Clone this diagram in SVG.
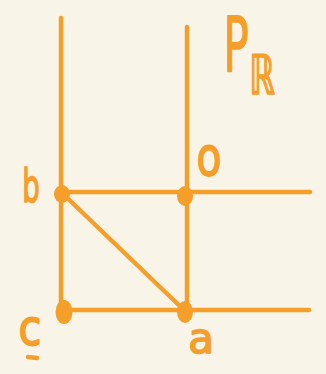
<svg xmlns="http://www.w3.org/2000/svg" width="326" height="374" viewBox="0 0 326 374">
<style>
.ln{stroke:#F59E2A;stroke-width:4.5;stroke-linecap:round;fill:none}
.dot{fill:#F59E2A}
.lbl{fill:#F59E2A;stroke:#F59E2A;stroke-width:1.6;stroke-linejoin:round;font-family:"DejaVu Sans",sans-serif;text-anchor:middle}
</style>
<rect width="326" height="374" fill="#F8F4E7"/>
<g id="connectors">
<line class="ln" x1="61" y1="18" x2="61" y2="312"/>
<line class="ln" x1="187" y1="27" x2="187" y2="311"/>
<line class="ln" x1="61" y1="192" x2="310" y2="192"/>
<line class="ln" x1="64" y1="310" x2="309" y2="310"/>
<line class="ln" x1="61" y1="192" x2="185" y2="311"/>
</g>
<g id="node-b">
<ellipse class="dot" cx="62" cy="194" rx="8" ry="9"/>
<text class="lbl" transform="translate(31,202) scale(0.6,1)" font-size="46">b</text>
</g>
<g id="node-o">
<ellipse class="dot" cx="185" cy="196" rx="8" ry="10"/>
<text class="lbl" transform="translate(209,175) scale(0.85,1.1)" font-size="48">o</text>
</g>
<g id="node-c">
<ellipse class="dot" cx="64" cy="312" rx="8.5" ry="12"/>
<text class="lbl" transform="translate(30,345) scale(0.95,1.15)" font-size="44">c</text>
<line class="ln" x1="28" y1="357" x2="37" y2="358" stroke-width="3"/>
</g>
<g id="node-a">
<ellipse class="dot" cx="185" cy="312" rx="8" ry="11"/>
<text class="lbl" transform="translate(201,353)" font-size="42">a</text>
</g>
<g id="label-PR">
<text class="lbl" transform="translate(236,72) scale(0.55,1)" font-size="76">P</text>
<text class="lbl" transform="translate(262,94) scale(0.6,1)" font-size="54" stroke-width="1">ℝ</text>
</g>
</svg>
